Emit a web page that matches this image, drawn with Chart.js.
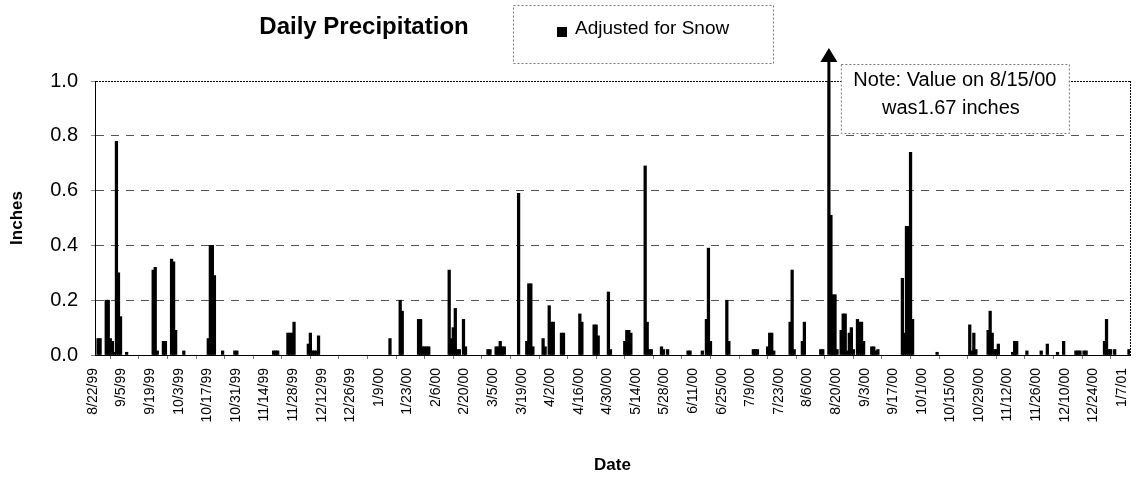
<!DOCTYPE html>
<html>
<head>
<meta charset="utf-8">
<title>Daily Precipitation</title>
<script src="https://cdn.jsdelivr.net/npm/chart.js@4/dist/chart.umd.min.js"></script>
<style>
  html, body { margin: 0; padding: 0; background: #fff; }
  #wrap { width: 1138px; height: 483px; position: relative; }
</style>
</head>
<body>
<div id="wrap"><canvas id="precip" width="1138" height="483"></canvas></div>
<script>
const FONT = '"Liberation Sans", Arial, Helvetica, sans-serif';

// Daily record: 8/22/99 through 1/9/01
const firstDay = [1999, 8, 22];
const dayCount = 507;
const labelEvery = 14;            // one date label every two weeks

const chartTitle = 'Daily Precipitation';
const seriesName = 'Adjusted for Snow';
const xTitle = 'Date';
const yTitle = 'Inches';
const yMin = 0, yMax = 1.0, yStep = 0.2;

// Off-scale day, called out with an arrow and a note
const noteDate = '8/15/00';
const noteLines = ['Note: Value on 8/15/00', 'was1.67 inches'];

// Days with measurable precipitation (all other days are dry)
const wetDates = [
  '8/23/99','8/24/99','8/27/99','8/28/99','8/29/99','8/30/99','8/31/99',
  '9/1/99','9/2/99','9/3/99','9/6/99',
  '9/19/99','9/20/99','9/21/99','9/24/99','9/25/99','9/28/99','9/29/99','9/30/99',
  '10/4/99','10/16/99','10/17/99','10/18/99','10/19/99','10/23/99','10/29/99','10/30/99',
  '11/17/99','11/18/99','11/19/99','11/24/99','11/25/99','11/26/99','11/27/99',
  '12/4/99','12/5/99','12/6/99','12/7/99','12/8/99','12/9/99',
  '1/13/00','1/18/00','1/19/00','1/27/00','1/28/00','1/29/00','1/30/00','1/31/00',
  '2/1/00','2/11/00','2/12/00','2/13/00','2/14/00','2/15/00','2/16/00','2/18/00','2/19/00',
  '3/1/00','3/2/00','3/5/00','3/6/00','3/7/00','3/8/00','3/9/00',
  '3/16/00','3/20/00','3/21/00','3/22/00','3/23/00','3/28/00','3/29/00','3/31/00',
  '4/1/00','4/2/00','4/6/00','4/7/00','4/15/00','4/16/00','4/22/00','4/23/00','4/24/00','4/29/00','4/30/00',
  '5/7/00','5/8/00','5/9/00','5/10/00','5/17/00','5/18/00','5/19/00','5/20/00','5/25/00','5/26/00','5/28/00',
  '6/7/00','6/8/00','6/14/00','6/16/00','6/17/00','6/18/00','6/26/00','6/27/00',
  '7/9/00','7/10/00','7/11/00','7/16/00','7/17/00','7/18/00','7/19/00','7/27/00','7/28/00','7/29/00',
  '8/2/00','8/3/00','8/11/00','8/12/00','8/15/00','8/16/00','8/17/00','8/18/00','8/19/00',
  '8/21/00','8/22/00','8/23/00','8/24/00','8/25/00','8/26/00','8/27/00','8/29/00','8/30/00','8/31/00',
  '9/1/00','9/5/00','9/6/00','9/7/00','9/8/00',
  '9/20/00','9/21/00','9/22/00','9/23/00','9/24/00','9/25/00',
  '10/7/00','10/23/00','10/24/00','10/25/00','10/26/00',
  '11/1/00','11/2/00','11/3/00','11/4/00','11/5/00','11/6/00','11/13/00','11/14/00','11/15/00',
  '11/20/00','11/27/00','11/30/00',
  '12/5/00','12/8/00','12/14/00','12/15/00','12/16/00','12/18/00','12/19/00',
  '12/28/00','12/29/00','12/30/00','12/31/00',
  '1/2/01','1/9/01'
];
const wetInches = [
  0.06,0.06,0.20,0.20,0.06,0.05,0.01,
  0.78,0.30,0.14,0.01,
  0.31,0.32,0.015,0.05,0.05,0.35,0.34,0.09,
  0.015,0.06,0.40,0.40,0.29,0.015,0.015,0.015,
  0.015,0.015,0.015,0.08,0.08,0.08,0.12,
  0.04,0.08,0.015,0.015,0.015,0.07,
  0.06,0.20,0.16,0.13,0.13,0.03,0.03,0.03,
  0.03,0.31,0.06,0.10,0.17,0.02,0.02,0.13,0.03,
  0.02,0.02,0.03,0.03,0.05,0.03,0.03,
  0.59,0.05,0.26,0.26,0.03,0.06,0.03,0.18,
  0.12,0.12,0.08,0.08,0.15,0.12,0.11,0.11,0.07,0.23,0.02,
  0.05,0.09,0.09,0.08,0.69,0.12,0.02,0.02,0.03,0.02,0.02,
  0.015,0.015,0.015,0.13,0.39,0.05,0.20,0.05,
  0.02,0.02,0.02,0.03,0.08,0.08,0.015,0.12,0.31,0.02,
  0.05,0.12,0.02,0.02,1.67,0.51,0.22,0.22,0.02,
  0.09,0.15,0.15,0.015,0.08,0.10,0.02,0.13,0.12,0.12,
  0.05,0.03,0.03,0.015,0.02,
  0.28,0.08,0.47,0.47,0.74,0.13,
  0.01,0.11,0.015,0.08,0.02,
  0.09,0.16,0.08,0.02,0.02,0.04,0.01,0.05,0.05,
  0.015,0.015,0.04,
  0.01,0.05,0.015,0.015,0.015,0.015,0.015,
  0.05,0.13,0.02,0.02,
  0.02,0.02
];

// ---- category list of every day, M/D/YY ----
function fmtDate(d) {
  return (d.getMonth() + 1) + '/' + d.getDate() + '/' + String(d.getFullYear()).slice(2);
}
const dates = [];
for (let i = 0; i < dayCount; i++) {
  dates.push(fmtDate(new Date(firstDay[0], firstDay[1] - 1, firstDay[2] + i)));
}
const inches = dates.map(() => null);   // dry day: no bar
wetDates.forEach((d, i) => {
  const k = dates.indexOf(d);
  if (k >= 0) inches[k] = wetInches[i];
});

// ---- title, legend box, off-scale arrow and note, dotted right frame ----
const decorations = {
  id: 'decorations',
  afterDraw(chart) {
    const { ctx, chartArea: a, scales: { x, y } } = chart;
    ctx.save();

    // dotted right edge of the plot area
    ctx.strokeStyle = '#000';
    ctx.lineWidth = 1;
    ctx.setLineDash([2, 1]);
    ctx.beginPath();
    ctx.moveTo(a.right + 0.5, a.top);
    ctx.lineTo(a.right + 0.5, a.bottom);
    ctx.stroke();
    ctx.setLineDash([]);

    // chart title
    ctx.fillStyle = '#000';
    ctx.font = 'bold 24px ' + FONT;
    ctx.textAlign = 'center';
    ctx.textBaseline = 'alphabetic';
    ctx.fillText(chartTitle, 364, 34);

    // legend box
    const lg = { x: 513, y: 5, w: 260, h: 58 };
    ctx.fillStyle = '#fff';
    ctx.fillRect(lg.x, lg.y, lg.w, lg.h);
    ctx.strokeStyle = '#777';
    ctx.setLineDash([2, 2]);
    ctx.strokeRect(lg.x + 0.5, lg.y + 0.5, lg.w, lg.h);
    ctx.setLineDash([]);
    ctx.fillStyle = '#000';
    ctx.fillRect(lg.x + 44, lg.y + 22, 10, 10);
    ctx.font = '19px ' + FONT;
    ctx.textAlign = 'left';
    ctx.fillText(seriesName, lg.x + 62, lg.y + 29);

    // arrow continuing the off-scale bar above the plot
    const k = dates.indexOf(noteDate);
    const bx = x.getPixelForValue(k);
    const top = y.getPixelForValue(yMax);
    const tipY = top - 33;
    ctx.fillStyle = '#000';
    ctx.fillRect(bx - 1.5, tipY + 10, 3, top - tipY - 9);
    ctx.beginPath();
    ctx.moveTo(bx, tipY);
    ctx.lineTo(bx - 8.5, tipY + 14);
    ctx.lineTo(bx + 8.5, tipY + 14);
    ctx.closePath();
    ctx.fill();

    // note box next to the arrow
    const nb = { x: bx + 12, y: top - 17, w: 228, h: 69 };
    ctx.fillStyle = '#fff';
    ctx.fillRect(nb.x, nb.y, nb.w, nb.h);
    ctx.strokeStyle = '#777';
    ctx.setLineDash([2, 2]);
    ctx.strokeRect(nb.x + 0.5, nb.y + 0.5, nb.w, nb.h);
    ctx.setLineDash([]);
    ctx.fillStyle = '#000';
    ctx.font = '20px ' + FONT;
    ctx.textAlign = 'center';
    ctx.fillText(noteLines[0], nb.x + nb.w / 2, nb.y + 22);
    ctx.fillText(noteLines[1], nb.x + nb.w / 2 - 4, nb.y + 50);

    ctx.restore();
  }
};

const near = (v, t) => Math.abs(v - t) < 1e-6;

new Chart(document.getElementById('precip'), {
  type: 'bar',
  data: {
    labels: dates,
    datasets: [{
      label: seriesName,
      data: inches,
      backgroundColor: '#000',
      borderWidth: 0,
      barThickness: 2.6
    }]
  },
  options: {
    responsive: false,
    animation: false,
    devicePixelRatio: 1,
    layout: { padding: { top: 81, right: 8, left: 0, bottom: 0 } },
    plugins: {
      legend: { display: false },
      title: { display: false },
      tooltip: { enabled: false }
    },
    scales: {
      x: {
        type: 'category',
        grid: {
          display: true,
          drawOnChartArea: false,
          drawTicks: true,
          tickLength: 4,
          tickColor: '#777',
          color: '#777'
        },
        border: { display: true, color: '#000', width: 1 },
        ticks: {
          autoSkip: false,
          minRotation: 90,
          maxRotation: 90,
          padding: 9,
          labelOffset: -3,
          color: '#000',
          font: { family: FONT, size: 14 },
          callback: (v, i) => (i % labelEvery === 0 ? dates[i] : null)
        },
        title: {
          display: true,
          text: xTitle,
          color: '#000',
          font: { family: FONT, size: 17, weight: 'bold' },
          padding: { top: 0, bottom: 7 }
        },
        afterFit: s => {
          s.height = 128;
          s.paddingLeft = 0;
          s.paddingRight = 0;
        }
      },
      y: {
        min: yMin,
        max: yMax,
        ticks: {
          stepSize: yStep,
          padding: 13,
          color: '#000',
          font: { family: FONT, size: 20 },
          callback: v => Number(v).toFixed(1)
        },
        grid: {
          color: c => (c.tick && (near(c.tick.value, yMax) || near(c.tick.value, yMin)) ? '#000' : '#555'),
          lineWidth: 1,
          drawTicks: true,
          tickLength: 4,
          tickColor: '#888'
        },
        border: {
          display: true,
          color: '#000',
          width: 1,
          dash: c => {
            if (!c.tick) return [];
            if (near(c.tick.value, yMax)) return [2, 1];
            if (near(c.tick.value, yMin)) return [];
            return [8, 7];
          }
        },
        title: {
          display: true,
          text: yTitle,
          color: '#000',
          font: { family: FONT, size: 17, weight: 'bold' },
          padding: { top: 7, bottom: 0 }
        },
        afterFit: s => {
          s.width = 95;
          s.paddingTop = 0;
          s.paddingBottom = 0;
        }
      }
    }
  },
  plugins: [decorations]
});
</script>
</body>
</html>
